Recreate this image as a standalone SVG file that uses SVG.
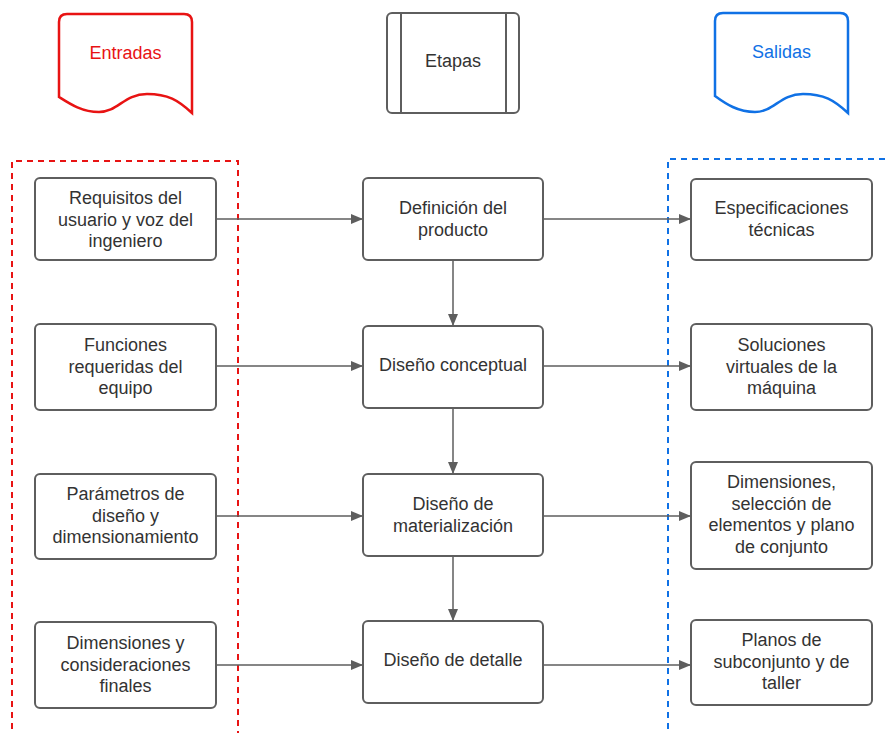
<svg xmlns="http://www.w3.org/2000/svg" width="885" height="733" viewBox="0 0 885 733">
<style>
.box{fill:#fff;stroke:#5e5e5e;stroke-width:2}
.t{font-family:"Liberation Sans",Arial,sans-serif;font-size:18px;fill:#333;text-anchor:middle}
.c{fill:none;stroke:#5e5e5e;stroke-width:1.5}
</style>
<defs>
<marker id="ah" viewBox="0 0 12 10" refX="12" refY="5" markerWidth="12" markerHeight="10" markerUnits="userSpaceOnUse" orient="auto">
<path d="M0,0 L12,5 L0,10 Z" fill="#5e5e5e"/>
</marker>
</defs>
<rect width="885" height="733" fill="#fff"/>
<g id="groupEntradas">
<path d="M12,740 L12,161 L238,161 L238,740" fill="none" stroke="#e81313" stroke-width="2" stroke-dasharray="6,5"/>
</g>
<g id="groupSalidas">
<path d="M668,740 L668,159 L890,159" fill="none" stroke="#1071e5" stroke-width="2" stroke-dasharray="6,5"/>
</g>
<g id="hdrEntradas">
<path d="M59,22 Q59,14 67,14 L184,14 Q192,14 192,22 L192,113 C178,100 168,94 147,94 C124,94 118,112 99,112 C82,112 70,104 59,97 Z" fill="#fff" stroke="#e81313" stroke-width="2.5"/>
<text class="t" x="125.5" y="59" style="fill:#e81313">Entradas</text>
</g>
<g id="hdrEtapas">
<rect class="box" x="387" y="13" width="132" height="100" rx="5"/>
<line x1="401" y1="13" x2="401" y2="113" stroke="#5e5e5e" stroke-width="2"/>
<line x1="506" y1="13" x2="506" y2="113" stroke="#5e5e5e" stroke-width="2"/>
<text class="t" x="453" y="67">Etapas</text>
</g>
<g id="hdrSalidas">
<path d="M715,21 Q715,13 723,13 L840,13 Q848,13 848,21 L848,113 C834,100 824,94 803,94 C780,94 774,112 755,112 C738,112 726,104 715,96 Z" fill="#fff" stroke="#1071e5" stroke-width="2.5"/>
<text class="t" x="781.5" y="58" style="fill:#1071e5">Salidas</text>
</g>
<g id="connectors">
<line class="c" x1="216" y1="219" x2="363" y2="219" marker-end="url(#ah)"/>
<line class="c" x1="543" y1="219" x2="691" y2="219" marker-end="url(#ah)"/>
<line class="c" x1="216" y1="366" x2="363" y2="366" marker-end="url(#ah)"/>
<line class="c" x1="543" y1="366" x2="691" y2="366" marker-end="url(#ah)"/>
<line class="c" x1="216" y1="516" x2="363" y2="516" marker-end="url(#ah)"/>
<line class="c" x1="543" y1="516" x2="691" y2="516" marker-end="url(#ah)"/>
<line class="c" x1="216" y1="665" x2="363" y2="665" marker-end="url(#ah)"/>
<line class="c" x1="543" y1="665" x2="691" y2="665" marker-end="url(#ah)"/>
<line class="c" x1="453" y1="260" x2="453" y2="326" marker-end="url(#ah)"/>
<line class="c" x1="453" y1="408" x2="453" y2="474" marker-end="url(#ah)"/>
<line class="c" x1="453" y1="556" x2="453" y2="621" marker-end="url(#ah)"/>
</g>
<g id="in1"><rect class="box" x="35" y="178" width="181" height="82" rx="5"/>
<text class="t"><tspan x="125.5" y="204">Requisitos del</tspan><tspan x="125.5" y="225.5">usuario y voz del</tspan><tspan x="125.5" y="247">ingeniero</tspan></text></g>
<g id="st1"><rect class="box" x="363" y="178" width="180" height="82" rx="5"/>
<text class="t"><tspan x="453" y="214">Definición del</tspan><tspan x="453" y="235.5">producto</tspan></text></g>
<g id="out1"><rect class="box" x="691" y="179" width="181" height="81" rx="5"/>
<text class="t"><tspan x="781.5" y="214">Especificaciones</tspan><tspan x="781.5" y="235.5">técnicas</tspan></text></g>

<g id="in2"><rect class="box" x="35" y="324" width="181" height="86" rx="5"/>
<text class="t"><tspan x="125.5" y="351">Funciones</tspan><tspan x="125.5" y="372.5">requeridas del</tspan><tspan x="125.5" y="394">equipo</tspan></text></g>
<g id="st2"><rect class="box" x="363" y="326" width="180" height="82" rx="5"/>
<text class="t"><tspan x="453" y="371">Diseño conceptual</tspan></text></g>
<g id="out2"><rect class="box" x="691" y="324" width="181" height="86" rx="5"/>
<text class="t"><tspan x="781.5" y="351">Soluciones</tspan><tspan x="781.5" y="372.5">virtuales de la</tspan><tspan x="781.5" y="394">máquina</tspan></text></g>

<g id="in3"><rect class="box" x="35" y="474" width="181" height="85" rx="5"/>
<text class="t"><tspan x="125.5" y="500">Parámetros de</tspan><tspan x="125.5" y="521.5">diseño y</tspan><tspan x="125.5" y="543">dimensionamiento</tspan></text></g>
<g id="st3"><rect class="box" x="363" y="474" width="180" height="82" rx="5"/>
<text class="t"><tspan x="453" y="510">Diseño de</tspan><tspan x="453" y="531.5">materialización</tspan></text></g>
<g id="out3"><rect class="box" x="691" y="462" width="181" height="107" rx="5"/>
<text class="t"><tspan x="781.5" y="488">Dimensiones,</tspan><tspan x="781.5" y="509.5">selección de</tspan><tspan x="781.5" y="531">elementos y plano</tspan><tspan x="781.5" y="552.5">de conjunto</tspan></text></g>

<g id="in4"><rect class="box" x="35" y="622" width="181" height="86" rx="5"/>
<text class="t"><tspan x="125.5" y="649">Dimensiones y</tspan><tspan x="125.5" y="670.5">consideraciones</tspan><tspan x="125.5" y="692">finales</tspan></text></g>
<g id="st4"><rect class="box" x="363" y="621" width="180" height="82" rx="5"/>
<text class="t"><tspan x="453" y="666">Diseño de detalle</tspan></text></g>
<g id="out4"><rect class="box" x="691" y="620" width="181" height="85" rx="5"/>
<text class="t"><tspan x="781.5" y="646">Planos de</tspan><tspan x="781.5" y="667.5">subconjunto y de</tspan><tspan x="781.5" y="689">taller</tspan></text></g>
</svg>
